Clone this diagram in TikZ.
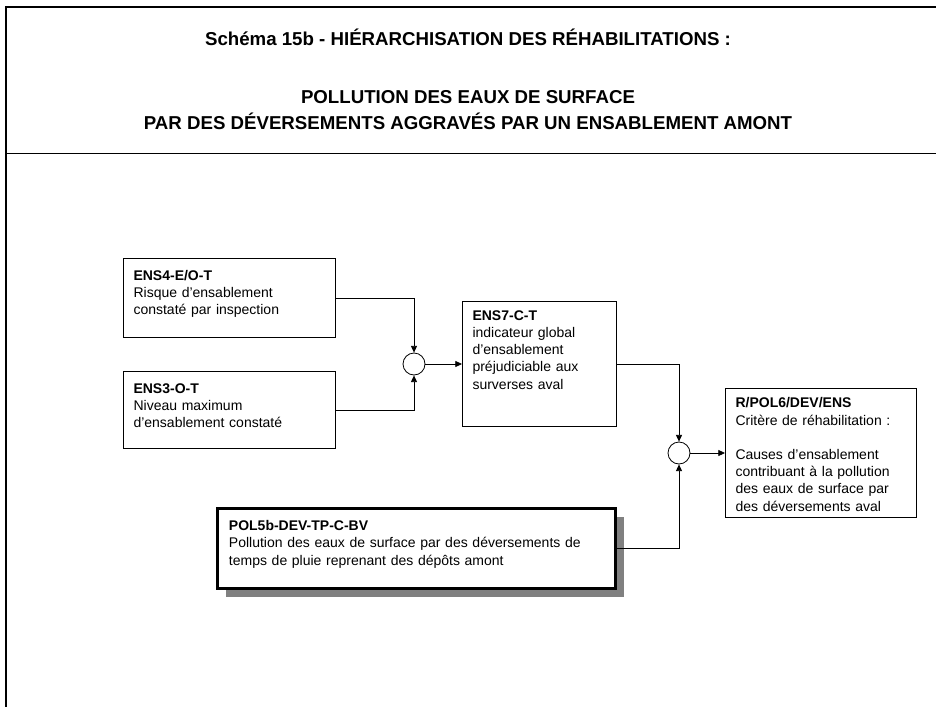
\documentclass[tikz,border=0pt]{standalone}
\usepackage{fontspec}
\setmainfont{Liberation Sans}
\usetikzlibrary{arrows.meta,positioning,shadows}
\definecolor{inkblack}{HTML}{000000}
\definecolor{shadowgray}{HTML}{808080}
\tikzset{
  box/.style={draw=inkblack,fill=white,line width=0.8pt,anchor=north west,align=left,inner xsep=7.5pt,inner ysep=0pt,text height=14pt,font=\fontsize{10.5}{12.9}\selectfont},
  keybox/.style={box,line width=2.4pt,inner xsep=8.5pt,general shadow={fill=shadowgray,shadow xshift=6.5pt,shadow yshift=-6.5pt}},
  junction/.style={circle,draw=inkblack,line width=0.6pt,minimum size=16.5pt,inner sep=0pt},
  flow/.style={-{Triangle[length=5pt,width=4.5pt]},line width=0.6pt,draw=inkblack},
  titletext/.style={align=center,font=\bfseries\fontsize{14}{19.5}\selectfont}
}

\begin{document}
\begin{tikzpicture}[x=0.75pt,y=-0.75pt]
  \useasboundingbox (0,0) rectangle (936,707);
  % cadre
  \draw[line width=1.9pt] (5,7) -- (936,7);
  \draw[line width=1.9pt] (6,6) -- (6,707);
  \draw[line width=0.7pt] (6,153) -- (936,153);

  \node[titletext] (titre) at (468,37) {Schéma 15b - HIÉRARCHISATION DES RÉHABILITATIONS :};
  \node[titletext] (soustitre) at (468,110) {POLLUTION DES EAUX DE SURFACE\\PAR DES DÉVERSEMENTS AGGRAVÉS PAR UN ENSABLEMENT AMONT};

  % indicateurs
  \node[box,text width=144pt,text height=16.5pt,text depth=42.75pt] (ens4) at (123,258) {\textbf{ENS4-E/O-T}\\Risque d’ensablement\\constaté par inspection};
  \node[box,text width=144pt,text height=16.5pt,text depth=41.25pt] (ens3) at (123,371) {\textbf{ENS3-O-T}\\Niveau maximum\\d’ensablement constaté};
  \node[junction] (jonction1) at (414,364) {};
  \node[box,text width=100.5pt,text height=14pt,text depth=79.75pt] (ens7) at (462,301) {\textbf{ENS7-C-T}\\indicateur global\\d’ensablement\\préjudiciable aux\\surverses aval};
  \node[keybox,text width=281.5pt,text height=16.5pt,text depth=43.5pt] (pol5b) at (216,507) {\textbf{POL5b-DEV-TP-C-BV}\\Pollution des eaux de surface par des déversements de\\temps de pluie reprenant des dépôts amont};
  \node[junction] (jonction2) at (679,453) {};
  \node[box,text width=128.25pt,text height=14.5pt,text depth=82.25pt] (critere) at (725,388) {\textbf{R/POL6/DEV/ENS}\\Critère de réhabilitation :\\[12.9pt]Causes d’ensablement\\contribuant à la pollution\\des eaux de surface par\\des déversements aval};

  \draw[flow] (ens4.east) -| (jonction1.north);
  \draw[flow] (ens3.east) -| (jonction1.south);
  \draw[flow] (jonction1.east) -- (jonction1.east -| ens7.west);
  \draw[flow] (ens7.east) -| (jonction2.north);
  \draw[flow] (pol5b.east) -| (jonction2.south);
  \draw[flow] (jonction2.east) -- (jonction2.east -| critere.west);
\end{tikzpicture}
\end{document}
